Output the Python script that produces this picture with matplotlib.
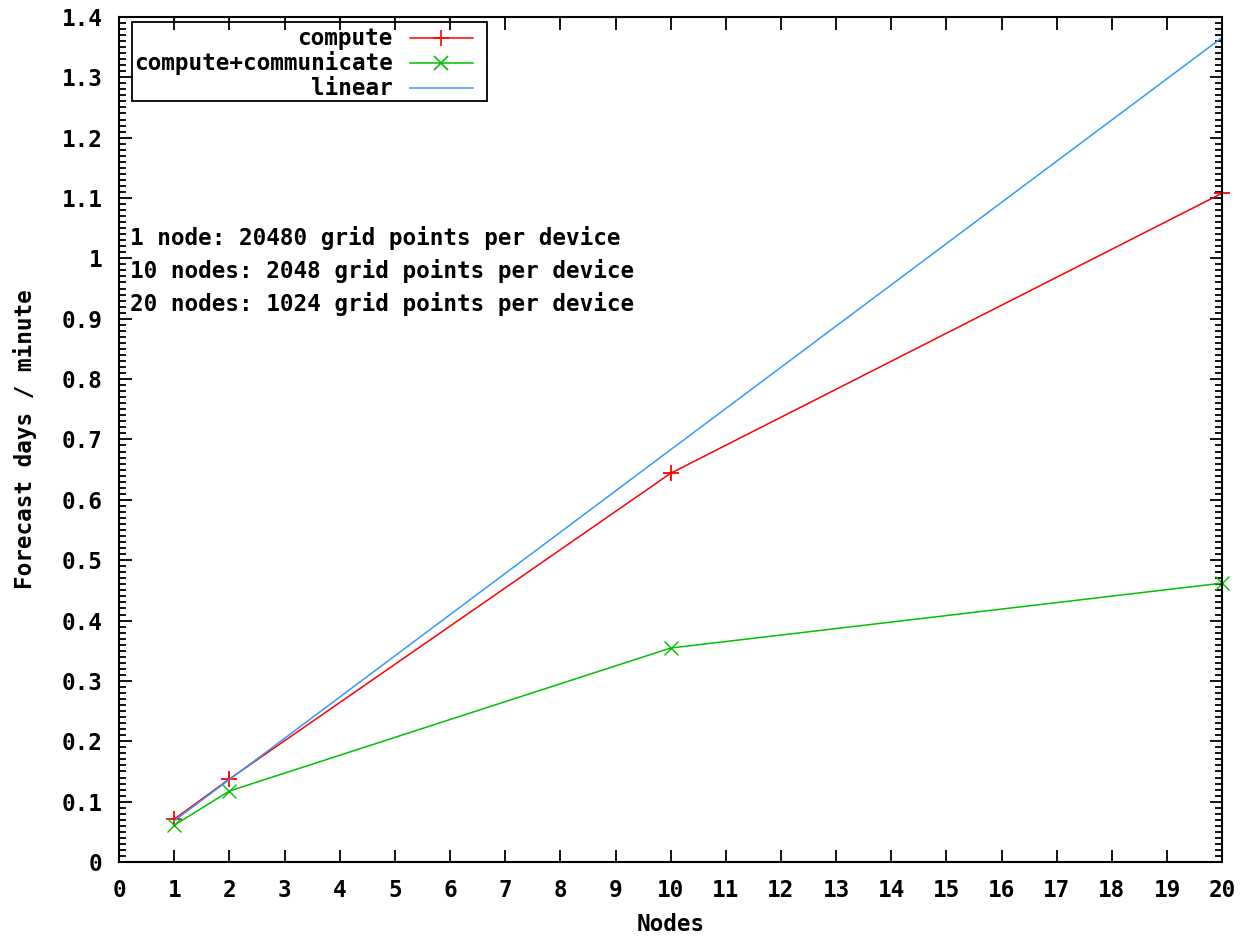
import matplotlib.pyplot as plt
from matplotlib.ticker import MultipleLocator, AutoMinorLocator
import matplotlib.patches as patches

nodes = [1, 2, 10, 20]
compute = [0.071, 0.1375, 0.644, 1.108]
compute_comm = [0.061, 0.1176, 0.3545, 0.462]
linear = [0.0683, 0.1366, 0.683, 1.366]

notes = ['1 node: 20480 grid points per device',
         '10 nodes: 2048 grid points per device',
         '20 nodes: 1024 grid points per device']

plt.rcParams['font.family'] = ['DejaVu Sans Mono']
plt.rcParams['font.weight'] = 'bold'

fs = 16.3

fig = plt.figure(figsize=(12.48, 9.38), dpi=100)
ax = fig.add_axes([0.0954, 0.081, 0.884, 0.901])

red = '#ff0000'
green = '#00c000'
blue = '#3399ff'

ax.plot(nodes, compute, color=red, lw=1.1, marker='+', ms=11, mew=1.3, clip_on=False)
ax.plot(nodes, compute_comm, color=green, lw=1.1, marker='x', ms=10, mew=1.0, clip_on=False)
ax.plot(nodes, linear, color=blue, lw=1.1)

ax.set_xlim(0, 20)
ax.set_ylim(0, 1.4)
ax.xaxis.set_major_locator(MultipleLocator(1))
ax.set_yticks([i / 10 for i in range(15)])
ax.set_yticklabels(['0'] + ['%g' % (i / 10) for i in range(1, 15)])
ax.yaxis.set_minor_locator(AutoMinorLocator(10))
ax.tick_params(which='both', direction='in', top=True, right=True, labelsize=fs, width=1.3)
ax.tick_params(which='major', length=9)
ax.tick_params(axis='y', which='major', pad=12)
ax.tick_params(axis='x', which='major', pad=12)
ax.tick_params(which='minor', length=5)
for s in ax.spines.values():
    s.set_linewidth(1.5)

ax.set_xlabel('Nodes', fontsize=fs, fontweight='bold', labelpad=8)
ax.set_ylabel('Forecast days / minute', fontsize=fs, fontweight='bold', labelpad=18)

# annotations
for i, t in enumerate(notes):
    ax.text(0.0095, 0.738 - i * 0.039, t, transform=ax.transAxes, fontsize=fs,
            fontweight='bold', va='center', ha='left')

# legend drawn by hand (right aligned text like gnuplot)
ax.add_patch(patches.Rectangle((0.0118, 0.9006), 0.3215, 0.0934, transform=ax.transAxes,
                               fill=False, lw=1.3, ec='black', zorder=5))
leg = [('compute', red, '+', 11), ('compute+communicate', green, 'x', 10), ('linear', blue, None, 0)]
for i, (lab, c, m, ms) in enumerate(leg):
    yy = 0.975 - i * 0.0296
    ax.text(0.248, yy, lab, transform=ax.transAxes, fontsize=fs, fontweight='bold',
            ha='right', va='center')
    ax.plot([0.2636, 0.3207], [yy, yy], color=c, lw=1.1, transform=ax.transAxes, clip_on=False)
    if m:
        ax.plot([0.292], [yy], color=c, marker=m, ms=ms, mew=1.2, transform=ax.transAxes)

fig.savefig('out.png', dpi=100)
